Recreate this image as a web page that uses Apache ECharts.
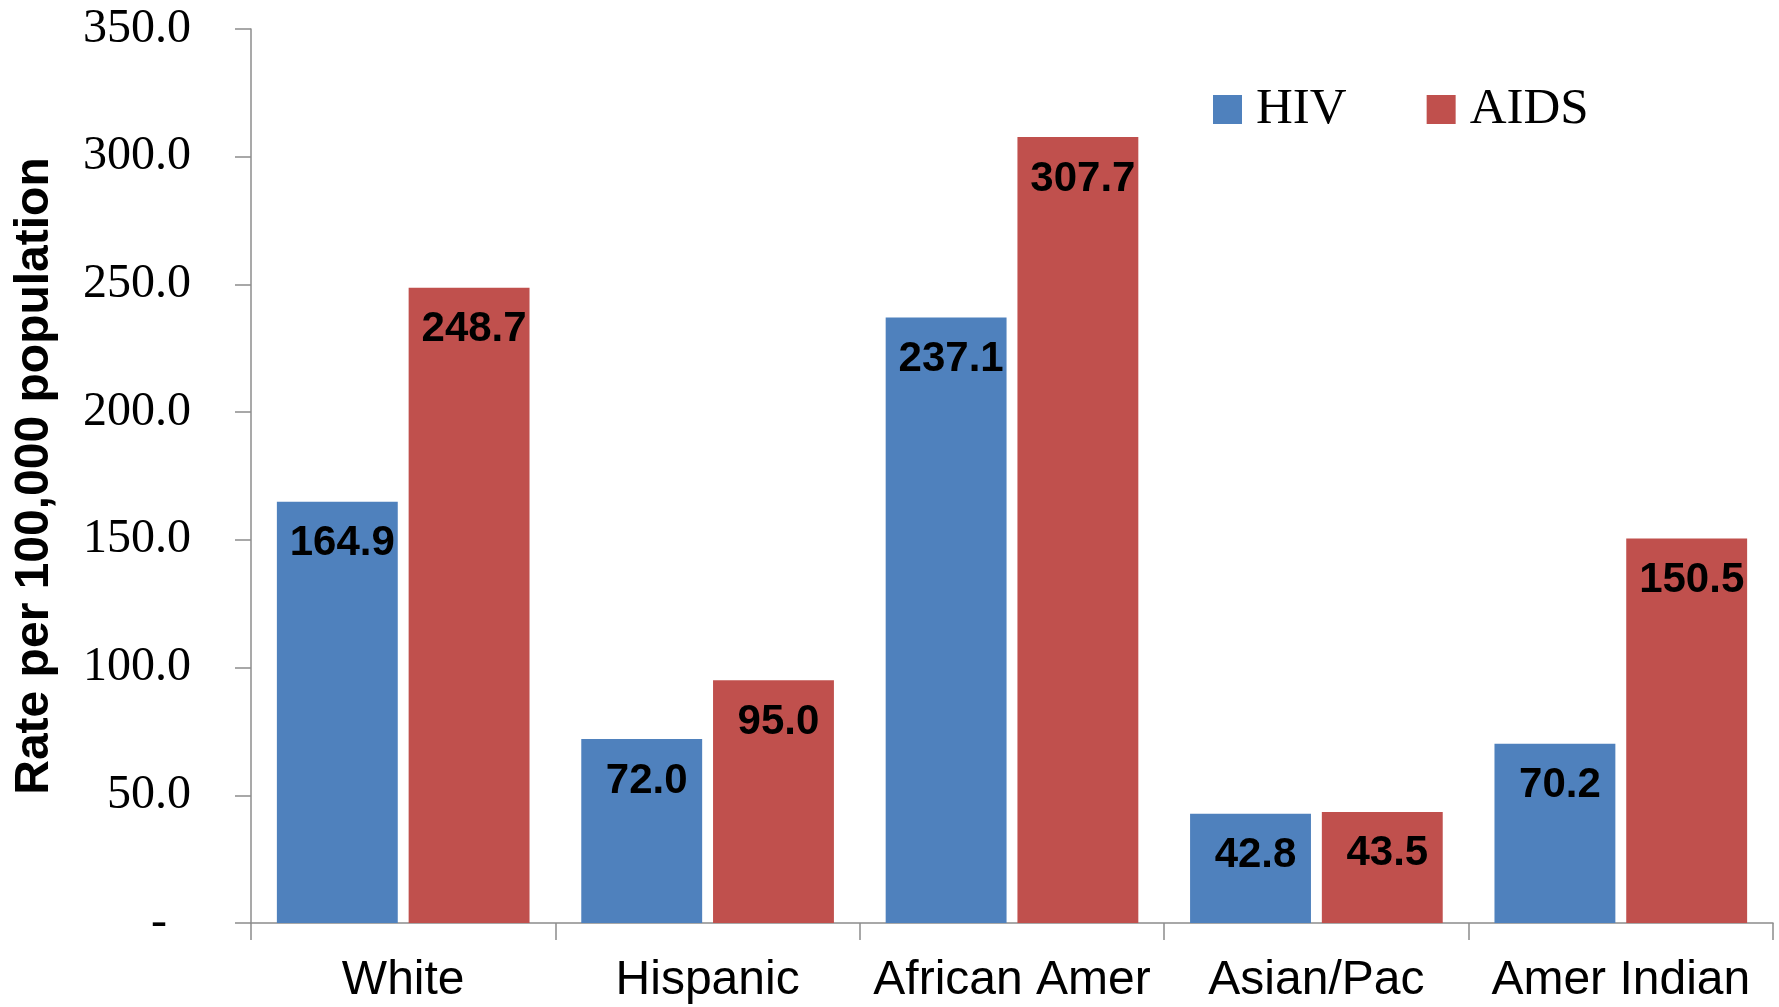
<!DOCTYPE html>
<html>
<head>
<meta charset="utf-8">
<script src="https://cdn.jsdelivr.net/npm/echarts@6/dist/echarts.min.js"></script>
<style>
  html, body { margin: 0; padding: 0; background: #fff; }
  #chart { width: 1779px; height: 1007px; }
</style>
</head>
<body>
<div id="chart"></div>
<script>
// Tasas de HIV / AIDS por grupo, por cada 100,000 habitantes
const categories = ['White', 'Hispanic', 'African Amer', 'Asian/Pac', 'Amer Indian'];
const hivRates   = [164.9, 72.0, 237.1, 42.8, 70.2];
const aidsRates  = [248.7, 95.0, 307.7, 43.5, 150.5];

const SERIF = '"Liberation Serif", "Times New Roman", serif';
const SANS  = '"Liberation Sans", Arial, sans-serif';
const AXIS_GREY = '#8c8c8c';

const chart = echarts.init(document.getElementById('chart'), null, { renderer: 'canvas' });

const barLabel = {
  show: true,
  position: 'insideTop',
  distance: 21,
  offset: [5, 0],
  color: '#000',
  fontFamily: SANS,
  fontWeight: 'bold',
  fontSize: 42,
  formatter: p => (+p.value).toFixed(1),
};

chart.setOption({
  backgroundColor: '#fff',
  animation: false,
  legend: {
    data: ['HIV', 'AIDS'],
    left: 1208,
    top: 79,
    icon: 'rect',
    itemWidth: 29,
    itemHeight: 29,
    itemGap: 80,
    textStyle: { color: '#000', fontFamily: SERIF, fontSize: 51, padding: [0, 0, 0, 9] },
  },
  grid: { left: 251, right: 6, top: 29, bottom: 84, containLabel: false },
  xAxis: {
    type: 'category',
    data: categories,
    axisLine:  { lineStyle: { color: AXIS_GREY, width: 1.5 } },
    axisTick:  { show: true, length: 17, lineStyle: { color: AXIS_GREY, width: 1.5 } },
    axisLabel: { color: '#000', fontFamily: SANS, fontSize: 48, margin: 34, interval: 0 },
  },
  yAxis: {
    type: 'value',
    min: 0,
    max: 350,
    interval: 50,
    name: 'Rate per 100,000 population',
    nameLocation: 'middle',
    nameRotate: 90,
    nameGap: 192,
    nameTextStyle: { color: '#000', fontFamily: SANS, fontWeight: 'bold', fontSize: 48 },
    axisLine:  { show: true, lineStyle: { color: AXIS_GREY, width: 1.5 } },
    axisTick:  { show: true, length: 16, lineStyle: { color: AXIS_GREY, width: 1.5 } },
    splitLine: { show: false },
    axisLabel: {
      color: '#000',
      fontFamily: SERIF,
      fontSize: 48,
      margin: 60,
      formatter: v => (v === 0 ? '-  ' : v.toFixed(1)),
    },
  },
  series: [
    {
      name: 'HIV',
      type: 'bar',
      data: hivRates,
      barGap: '9%',
      barCategoryGap: '17%',
      itemStyle: { color: '#4F81BD' },
      label: barLabel,
    },
    {
      name: 'AIDS',
      type: 'bar',
      data: aidsRates,
      barGap: '9%',
      barCategoryGap: '17%',
      itemStyle: { color: '#C0504D' },
      label: barLabel,
    },
  ],
});
</script>
</body>
</html>
